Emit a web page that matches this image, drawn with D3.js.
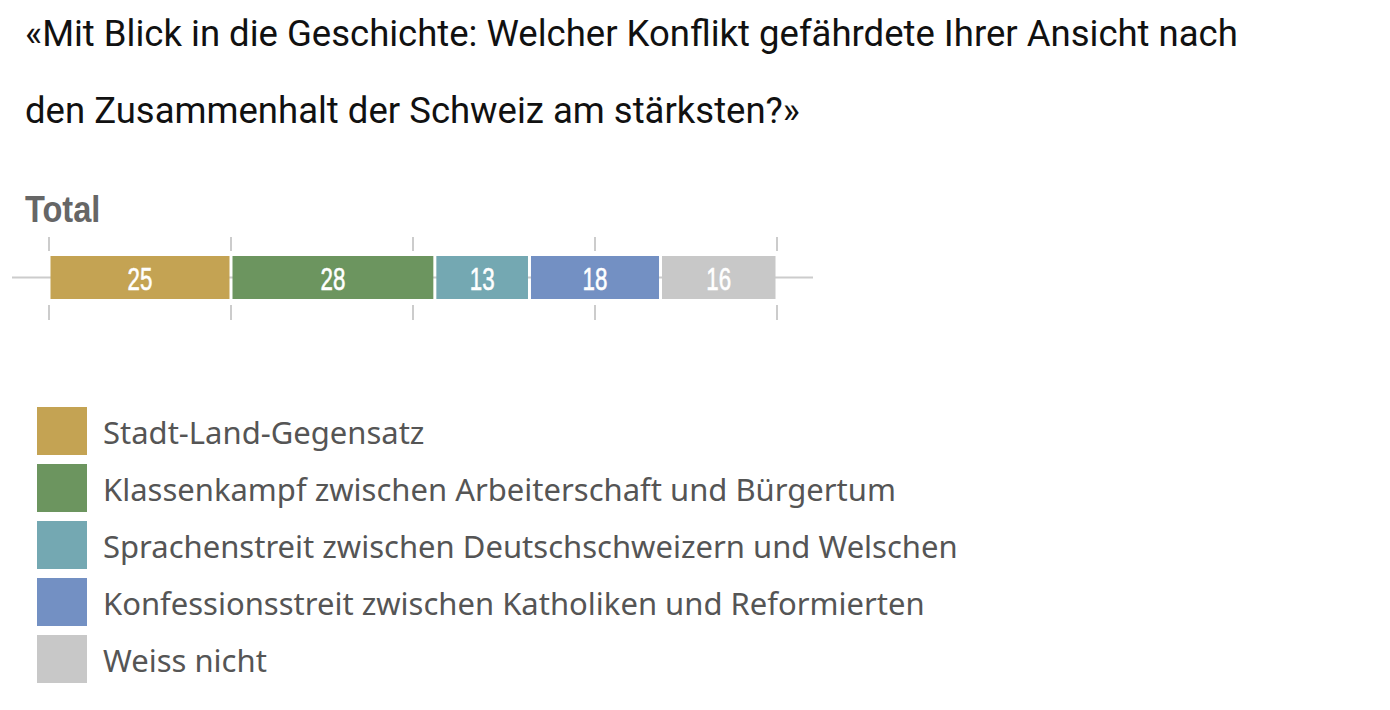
<!DOCTYPE html>
<html>
<head>
<meta charset="utf-8">
<script src="https://cdn.jsdelivr.net/npm/d3@7"></script>
<style>
  body { margin: 0; background: #fff; }
</style>
</head>
<body>
<div id="chart"></div>
<script>
// Data
let titleLines = [
  "«Mit Blick in die Geschichte: Welcher Konflikt gefährdete Ihrer Ansicht nach",
  "den Zusammenhalt der Schweiz am stärksten?»"
];
let groupLabel = "Total";
let categories = [
  "Stadt-Land-Gegensatz",
  "Klassenkampf zwischen Arbeiterschaft und Bürgertum",
  "Sprachenstreit zwischen Deutschschweizern und Welschen",
  "Konfessionsstreit zwischen Katholiken und Reformierten",
  "Weiss nicht"
];
let values = [25, 28, 13, 18, 16];
let colors = ["#c4a353", "#6c955f", "#74a8b2", "#7390c3", "#c8c8c8"];
let ticks = [0, 25, 50, 75, 100];

// Set size
let w = 1390;
let h = 710;

let svg = d3
  .select("#chart")
  .append("svg")
  .attr("width", w)
  .attr("height", h);

// Title
svg
  .selectAll("text.title")
  .data(titleLines)
  .enter()
  .append("text")
  .attr("class", "title")
  .attr("x", 25)
  .attr("y", (d, i) => 46 + i * 77)
  .attr("font-family", "Roboto")
  .attr("font-size", "36.5px")
  .attr("fill", "#111")
  .text((d) => d);

// Group label (condensed look)
svg
  .append("text")
  .attr("transform", "translate(25,222) scale(0.88,1)")
  .attr("font-family", "Liberation Sans")
  .attr("font-weight", "bold")
  .attr("font-size", "37px")
  .attr("fill", "#666")
  .text(groupLabel);

// Scales
let xScale = d3.scaleLinear().domain([0, 100]).range([49, 777]);
let barTop = 256;
let barH = 43;

// stacked positions
let stack = [];
let acc = 0;
values.forEach((v, i) => {
  stack.push({ start: acc, end: acc + v, value: v, color: colors[i] });
  acc += v;
});

// Baseline line
svg
  .append("line")
  .attr("x1", 12)
  .attr("x2", 813)
  .attr("y1", barTop + barH / 2)
  .attr("y2", barTop + barH / 2)
  .attr("stroke", "#ccc")
  .attr("stroke-width", 2);

// Ticks above and below
let tickG = svg.append("g");
tickG
  .selectAll("line.top")
  .data(ticks)
  .enter()
  .append("line")
  .attr("x1", (d) => xScale(d))
  .attr("x2", (d) => xScale(d))
  .attr("y1", 237)
  .attr("y2", 251)
  .attr("stroke", "#ccc")
  .attr("stroke-width", 2);
tickG
  .selectAll("line.bottom")
  .data(ticks)
  .enter()
  .append("line")
  .attr("x1", (d) => xScale(d))
  .attr("x2", (d) => xScale(d))
  .attr("y1", 305)
  .attr("y2", 320)
  .attr("stroke", "#ccc")
  .attr("stroke-width", 2);

// Bars
svg
  .selectAll("rect.bar")
  .data(stack)
  .enter()
  .append("rect")
  .attr("class", "bar")
  .attr("x", (d) => xScale(d.start) + 1.5)
  .attr("y", barTop)
  .attr("width", (d) => xScale(d.end) - xScale(d.start) - 3)
  .attr("height", barH)
  .attr("fill", (d) => d.color);

// Bar labels (condensed)
svg
  .selectAll("text.val")
  .data(stack)
  .enter()
  .append("text")
  .attr("class", "val")
  .attr(
    "transform",
    (d) =>
      "translate(" + (xScale(d.start) + xScale(d.end)) / 2 + "," + (barTop + 34) + ") scale(0.72,1)"
  )
  .attr("text-anchor", "middle")
  .attr("font-family", "Liberation Sans")
  .attr("font-size", "31px")
  .attr("stroke", "white")
  .attr("stroke-width", 0.6)
  .attr("fill", "white")
  .text((d) => d.value);

// Legend
let legend = svg
  .selectAll("g.legend")
  .data(categories)
  .enter()
  .append("g")
  .attr("class", "legend")
  .attr("transform", (d, i) => "translate(37," + (407 + i * 57) + ")");

legend
  .append("rect")
  .attr("width", 50)
  .attr("height", 48)
  .attr("fill", (d, i) => colors[i]);

legend
  .append("text")
  .attr("x", 66)
  .attr("y", 37)
  .attr("font-family", "Noto Sans")
  .attr("font-size", "31px")
  .attr("fill", "#555")
  .text((d) => d);
</script>
</body>
</html>
